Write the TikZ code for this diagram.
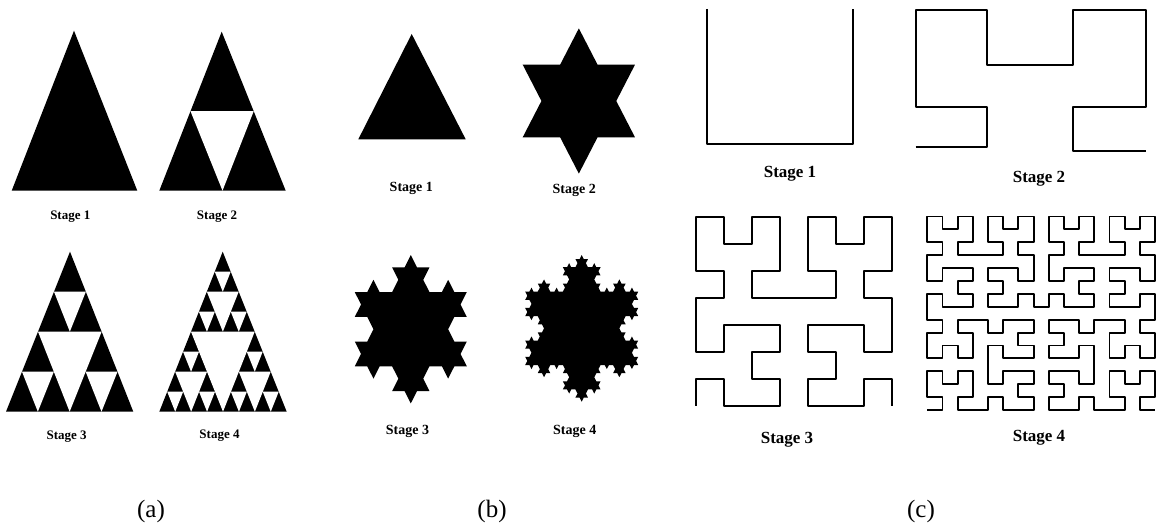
\documentclass[tikz,border=0pt]{standalone}
\usepackage{fontspec}
\setmainfont{Liberation Serif}
\usetikzlibrary{lindenmayersystems}
\pgfdeclarelindenmayersystem{Koch}{\rule{F -> F-F++F-F}}
\pgfdeclarelindenmayersystem{Hilbert}{%
  \rule{L -> +RF-LFL-FR+}
  \rule{R -> -LF+RFR+FL-}}
\newcommand\sierphole[3]{\fill[white] ({#1+#3/2},#2) -- (#1,{#2+#3/2}) -- ({#1+#3/2},{#2+#3/2}) -- cycle;}
\tikzset{
  laba/.style={font=\bfseries\fontsize{13}{15}\selectfont},
  labb/.style={font=\bfseries\fontsize{14}{16}\selectfont},
  labc/.style={font=\bfseries\fontsize{17}{19}\selectfont},
  figcap/.style={font=\fontsize{25}{28}\selectfont},
  hil/.style={line width=1.9pt, line join=round},
}
\begin{document}
\begin{tikzpicture}[x=1pt,y=-1pt]
\useasboundingbox[fill=white] (0,0) rectangle (1164,526);
% ---------- (a) Sierpinski ----------
\begin{scope}[shift={(11.7,190.7)}, x={(125.6pt,0pt)}, y={(62.3pt,160pt)}]
  \fill (0,0) -- (1,0) -- (0,1) -- cycle;
\end{scope}
\begin{scope}[shift={(159.3,190.7)}, x={(126.4pt,0pt)}, y={(62.4pt,159pt)}]
  \fill (0,0) -- (1,0) -- (0,1) -- cycle;
  \sierphole{0}{0}{1}
\end{scope}
\begin{scope}[shift={(6,411.7)}, x={(127.3pt,0pt)}, y={(64pt,160pt)}]
  \fill (0,0) -- (1,0) -- (0,1) -- cycle;
  \foreach \pa/\pb/\pd in {0/0/1, 0/0/0.5, 0.5/0/0.5, 0/0.5/0.5}
    {\sierphole{\pa}{\pb}{\pd}}
\end{scope}
\begin{scope}[shift={(159.3,411.7)}, x={(127.4pt,0pt)}, y={(63.4pt,160pt)}]
  \fill (0,0) -- (1,0) -- (0,1) -- cycle;
  \foreach \pa/\pb/\pd in {0/0/1, 0/0/0.5, 0.5/0/0.5, 0/0.5/0.5,
     0/0/0.25, 0.25/0/0.25, 0.5/0/0.25, 0.75/0/0.25, 0/0.25/0.25,
     0.5/0.25/0.25, 0/0.5/0.25, 0.25/0.5/0.25, 0/0.75/0.25}
    {\sierphole{\pa}{\pb}{\pd}}
\end{scope}
\node[laba] (a1) at (70.3,217) {Stage 1};
\node[laba] (a2) at (217,217) {Stage 2};
\node[laba] (a3) at (66.7,436.7) {Stage 3};
\node[laba] (a4) at (219.5,436) {Stage 4};
\node[figcap] (ca) at (151,511) {(a)};
% ---------- (b) Koch ----------
\fill (411.7,34) -- (358.3,139.3) -- (465.7,139.3) -- cycle;
\begin{scope}[shift={(522.7,137.3)}, yscale=1.12]
  \fill[lindenmayer system={Koch, axiom=F++F++F, order=1, step=37.43pt, angle=60}] (0,0) lindenmayer system -- cycle;
\end{scope}
\begin{scope}[shift={(354.8,366.3)}, yscale=1.147]
  \fill[lindenmayer system={Koch, axiom=F++F++F, order=2, step=12.444pt, angle=60}] (0,0) lindenmayer system -- cycle;
\end{scope}
\begin{scope}[shift={(525.2,365)}, yscale=1.124]
  \fill[lindenmayer system={Koch, axiom=F++F++F, order=3, step=4.185pt, angle=60}] (0,0) lindenmayer system -- cycle;
\end{scope}
\node[labb] (b1) at (411.3,188.3) {Stage 1};
\node[labb] (b2) at (574.2,190.7) {Stage 2};
\node[labb] (b3) at (407.5,431.7) {Stage 3};
\node[labb] (b4) at (574.7,431) {Stage 4};
\node[figcap] (cb) at (492,511) {(b)};
% ---------- (c) Hilbert ----------
\draw[hil] (707.3,9) -- (707.3,144) -- (853.3,144) -- (853.3,9);
\draw[hil] (915.7,146.7) -- (987.3,146.7) -- (987.3,106.7) -- (915.7,106.7) -- (915.7,10) -- (987.3,10) -- (987.3,65) -- (1072.7,65) -- (1072.7,10) -- (1146,10) -- (1146,106.7) -- (1073.3,106.7) -- (1073.3,150.7) -- (1146,150.7);
\begin{scope}[shift={(695.7,405.7)}, yscale=0.961]
  \draw[hil, lindenmayer system={Hilbert, axiom=L, order=3, step=28.1pt, angle=90}] (0,0) lindenmayer system;
\end{scope}
\begin{scope}[shift={(927.3,410)}, yscale=0.85]
  \draw[hil, lindenmayer system={Hilbert, axiom=L, order=4, step=15.18pt, angle=90}] (0,0) lindenmayer system;
\end{scope}
\node[labc] (c1) at (790,174) {Stage 1};
\node[labc] (c2) at (1039,179) {Stage 2};
\node[labc] (c3) at (787,440) {Stage 3};
\node[labc] (c4) at (1039,438) {Stage 4};
\node[figcap] (cc) at (921,511) {(c)};
\end{tikzpicture}
\end{document}
